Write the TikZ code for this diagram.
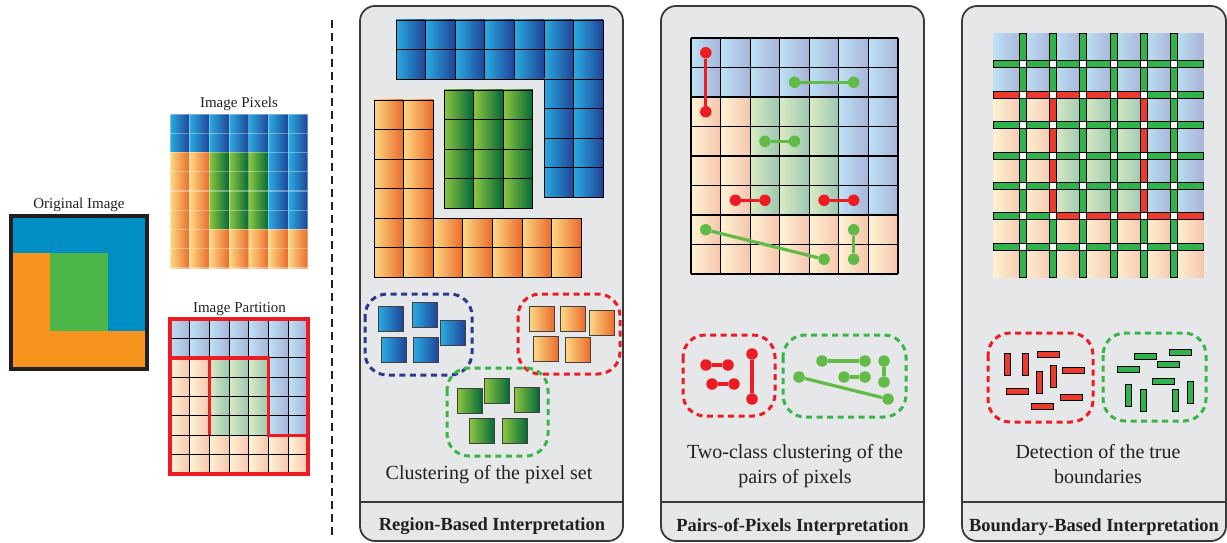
\documentclass[tikz,border=0pt]{standalone}
\usepackage{fontspec}
\setmainfont{Liberation Serif}
\usepackage{xcolor}
\usetikzlibrary{positioning}

\definecolor{inkgray}{HTML}{231F20}
\definecolor{panelgray}{HTML}{E6E7E8}
\definecolor{panelline}{HTML}{3A3A3A}
\definecolor{origorange}{HTML}{F7941D}
\definecolor{origblue}{HTML}{008FC5}
\definecolor{origgreen}{HTML}{4CB748}
\definecolor{blueL}{HTML}{29ABE2}
\definecolor{blueR}{HTML}{1F4396}
\definecolor{orangeL}{HTML}{FCD883}
\definecolor{orangeR}{HTML}{EA6A2A}
\definecolor{greenL}{HTML}{8DC63F}
\definecolor{greenR}{HTML}{006838}
\definecolor{pblueL}{HTML}{BCE2F5}
\definecolor{pblueR}{HTML}{A8B3D8}
\definecolor{porangeL}{HTML}{FDF3D3}
\definecolor{porangeR}{HTML}{F6C5AD}
\definecolor{pgreenL}{HTML}{DAEBC3}
\definecolor{pgreenR}{HTML}{9CC6B2}
\definecolor{pxred}{HTML}{ED1C24}
\definecolor{pxgreen}{HTML}{62BB46}
\definecolor{barred}{HTML}{EC3A2E}
\definecolor{bargreen}{HTML}{2FB34A}
\definecolor{clblue}{HTML}{2B3990}
\definecolor{clred}{HTML}{ED1C24}
\definecolor{clgreen}{HTML}{39B54A}

% region of cell (column, row) in the 7x8 image: b, o or g
\newcommand{\setregion}[2]{%
	\ifnum#2<2 \def\reg{b}\else\ifnum#2>5 \def\reg{o}\else\ifnum#1<2 \def\reg{o}\else\ifnum#1<5 \def\reg{g}\else\def\reg{b}\fi\fi\fi\fi}

\tikzset{
	every node/.style = {inner sep = 0, text=inkgray},
	smalllabel/.style = {font=\fontsize{15}{18}\selectfont, anchor=base},
	caption/.style = {font=\fontsize{20}{25}\selectfont, anchor=base, align=center},
	paneltitle/.style = {font=\fontsize{18.5}{22}\selectfont\bfseries, anchor=base},
	panel/.style = {draw=panelline, line width=1.8pt, fill=panelgray, rounded corners=15pt},
	panelrule/.style = {draw=panelline, line width=1.8pt},
	sepline/.style = {draw=inkgray, line width=2.5pt, dash pattern=on 8pt off 5pt},
	pixb/.style = {left color=blueL, right color=blueR},
	pixo/.style = {left color=orangeL, right color=orangeR},
	pixg/.style = {left color=greenL, right color=greenR},
	palb/.style = {left color=pblueL, right color=pblueR},
	palo/.style = {left color=porangeL, right color=porangeR},
	palg/.style = {left color=pgreenL, right color=pgreenR},
	pixgrid/.style = {draw=white, draw opacity=0.35, line width=1.2pt},
	cellline/.style = {draw=black, line width=0.9pt},
	boundary/.style = {draw=pxred, line width=3.5pt},
	clsq/.style = {draw=black!75, line width=0.8pt, minimum size=25pt},
	cluster/.style = {line width=3pt, dash pattern=on 6pt off 4.5pt, rounded corners=22pt},
	dotred/.style = {circle, fill=pxred, minimum size=11.5pt},
	dotgrn/.style = {circle, fill=pxgreen, minimum size=11.5pt},
	pairred/.style = {draw=pxred, line width=3.2pt},
	pairgrn/.style = {draw=pxgreen, line width=3.2pt},
	barline/.style = {draw=black, line width=1pt},
	minih/.style = {draw=black, line width=1pt, minimum width=22pt, minimum height=6pt},
	miniv/.style = {draw=black, line width=1pt, minimum width=6pt, minimum height=22pt},
}

\begin{document}
\begin{tikzpicture}[x=1pt, y=-1pt]
	\useasboundingbox (0,0) rectangle (1227,543);

	% original image
	\fill[origorange] (11,216) rectangle (147,369);
	\fill[origblue] (11,216) rectangle (147,253);
	\fill[origblue] (108,216) rectangle (147,331);
	\fill[origgreen] (50,253) rectangle (108,331);
	\draw[line width=4pt, draw=inkgray] (11,216) rectangle (147,369);
	\node[smalllabel] (origlabel) at (79,208) {Original Image};

	% image pixels
	\foreach \i in {0,...,6}
		\foreach \j in {0,...,7} {
			\setregion{\i}{\j}
			\fill[pix\reg] ({170+19.71*\i},{114+19.25*\j}) rectangle +(19.71,19.25);
		}
	\foreach \i in {0,...,7} \draw[pixgrid] ({170+19.71*\i},114) -- ({170+19.71*\i},268);
	\foreach \j in {0,...,8} \draw[pixgrid] (170,{114+19.25*\j}) -- (308,{114+19.25*\j});
	\node[smalllabel] (pixlabel) at (239,107) {Image Pixels};

	% image partition
	\foreach \i in {0,...,6}
		\foreach \j in {0,...,7} {
			\setregion{\i}{\j}
			\fill[pal\reg] ({170+19.71*\i},{319+19.375*\j}) rectangle +(19.71,19.375);
		}
	\foreach \i in {1,...,6} \draw[cellline] ({170+19.71*\i},319) -- ({170+19.71*\i},474);
	\foreach \j in {1,...,7} \draw[cellline] (170,{319+19.375*\j}) -- (308,{319+19.375*\j});
	\draw[boundary] (170,357.75) -- (268.6,357.75) -- (268.6,435.25) -- (308,435.25);
	\draw[boundary] (209.4,357.75) -- (209.4,435.25);
	\draw[boundary, line width=4pt] (170,319) rectangle (308,474);
	\node[smalllabel] (partlabel) at (239.5,312) {Image Partition};

	\draw[sepline] (332,20) -- (332,535);

	% panels
	\draw[panel] (360,6) rectangle (623,541);
	\draw[panel] (661,6) rectangle (924,541);
	\draw[panel] (962,6) rectangle (1226,541);
	\draw[panelrule] (360,502) -- (623,502);
	\draw[panelrule] (661,502) -- (924,502);
	\draw[panelrule] (962,502) -- (1226,502);

	% region-based: the three regions
	\foreach \i in {0,...,6}
		\foreach \j in {0,1} \draw[pixb, cellline] ({396+29.6*\i},{20+29.5*\j}) rectangle +(29.6,29.5);
	\foreach \i in {5,6}
		\foreach \j in {2,...,5} \draw[pixb, cellline] ({396+29.6*\i},{20+29.5*\j}) rectangle +(29.6,29.5);
	\foreach \i in {0,1,2}
		\foreach \j in {0,...,3} \draw[pixg, cellline] ({444+29.6*\i},{90+29.5*\j}) rectangle +(29.6,29.5);
	\foreach \i in {0,1}
		\foreach \j in {0,...,3} \draw[pixo, cellline] ({374+29.6*\i},{100+29.5*\j}) rectangle +(29.6,29.5);
	\foreach \i in {0,...,6}
		\foreach \j in {4,5} \draw[pixo, cellline] ({374+29.6*\i},{100+29.5*\j}) rectangle +(29.6,29.5);

	% region-based: clusters
	\draw[cluster, draw=clblue] (365,294) rectangle (472,375);
	\draw[cluster, draw=clred] (518,294) rectangle (620,374);
	\draw[cluster, draw=clgreen] (447,368) rectangle (548,456);
	\foreach \n/\x/\y in {1/391/319, 2/425/315, 3/453/333, 4/394/350, 5/426/350}
		\node[clsq, pixb] (bsq\n) at (\x,\y) {};
	\foreach \n/\x/\y in {1/542/319, 2/573/319, 3/602/323, 4/546/349, 5/578/350}
		\node[clsq, pixo] (osq\n) at (\x,\y) {};
	\foreach \n/\x/\y in {1/470/401, 2/497/391, 3/527/400, 4/482/431, 5/515/431}
		\node[clsq, pixg] (gsq\n) at (\x,\y) {};
	\node[caption] (regioncap) at (489,479) {Clustering of the pixel set};
	\node[paneltitle] (regiontitle) at (492,530) {Region-Based Interpretation};

	% pairs of pixels: grid
	\foreach \i in {0,...,6}
		\foreach \j in {0,...,7} {
			\setregion{\i}{\j}
			\fill[pal\reg] ({691+29.57*\i},{38+29.5*\j}) rectangle +(29.57,29.5);
		}
	\foreach \i in {0,...,7} \draw[cellline, line width=1.2pt] ({691+29.57*\i},38) -- ({691+29.57*\i},274);
	\foreach \j in {0,...,8} \draw[cellline, line width=1.2pt] (691,{38+29.5*\j}) -- (898,{38+29.5*\j});

	% pairs of pixels: pairs in the grid and in the clusters
	\foreach \n/\xa/\ya/\xb/\yb in {1/705.8/52.75/705.8/111.75, 2/735.4/200.25/764.9/200.25, 3/824.1/200.25/853.7/200.25,
		4/706/365/728/365, 5/712/384/734/384, 6/752/354/752/399} {
		\node[dotred] (redA\n) at (\xa,\ya) {};
		\node[dotred] (redB\n) at (\xb,\yb) {};
		\draw[pairred] (redA\n) -- (redB\n);
	}
	\foreach \n/\xa/\ya/\xb/\yb in {1/794.5/82.25/853.7/82.25, 2/764.9/141.25/794.5/141.25, 3/705.8/229.75/824.1/259.25,
		4/853.7/229.75/853.7/259.25, 5/822/361/865/361, 6/844/377/865/377, 7/884/361/884/382, 8/799/377/888/399} {
		\node[dotgrn] (grnA\n) at (\xa,\ya) {};
		\node[dotgrn] (grnB\n) at (\xb,\yb) {};
		\draw[pairgrn] (grnA\n) -- (grnB\n);
	}
	\draw[cluster, draw=clred] (683,335) rectangle (775,416);
	\draw[cluster, draw=clgreen] (783,335) rectangle (906,417);
	\node[caption] (pairscap) at (795,483) {Two-class clustering of the\\pairs of pixels};
	\node[paneltitle] (pairstitle) at (792.5,531) {Pairs-of-Pixels Interpretation};

	% boundary-based: grid and boundaries
	\foreach \i in {0,...,6}
		\foreach \j in {0,...,7} {
			\setregion{\i}{\j}
			\fill[pal\reg] ({993+30.14*\i},{34+30.375*\j}) rectangle +(30.14,30.375);
		}
	\foreach \k in {1,...,6}
		\foreach \l in {1,...,7}
			\fill[white] ({993+30.14*\k-3.5},{34+30.375*\l-3.5}) rectangle ({993+30.14*\k+3.5},{34+30.375*\l+3.5});
	\foreach \k in {1,...,6}
		\foreach \j in {0,...,7} {
			\pgfmathtruncatemacro\km{\k-1}
			\setregion{\km}{\j}\let\rega\reg
			\setregion{\k}{\j}
			\ifx\rega\reg\def\barcol{bargreen}\else\def\barcol{barred}\fi
			\pgfmathsetmacro\xa{993+30.14*\k}
			\pgfmathsetmacro\ya{34+30.375*\j+(\j>0)*3.5}
			\pgfmathsetmacro\yb{34+30.375*(\j+1)-(\j<7)*3.5}
			\draw[barline, fill=\barcol] (\xa-3.5,\ya) rectangle (\xa+3.5,\yb);
		}
	\foreach \k in {1,...,7}
		\foreach \i in {0,...,6} {
			\pgfmathtruncatemacro\km{\k-1}
			\setregion{\i}{\km}\let\rega\reg
			\setregion{\i}{\k}
			\ifx\rega\reg\def\barcol{bargreen}\else\def\barcol{barred}\fi
			\pgfmathsetmacro\ya{34+30.375*\k}
			\pgfmathsetmacro\xa{993+30.14*\i+(\i>0)*3.5}
			\pgfmathsetmacro\xb{993+30.14*(\i+1)-(\i<6)*3.5}
			\draw[barline, fill=\barcol] (\xa,\ya-3.5) rectangle (\xb,\ya+3.5);
		}

	% boundary-based: clusters
	\draw[cluster, draw=clred] (988,333) rectangle (1093,422);
	\draw[cluster, draw=clgreen] (1103,333) rectangle (1206,421);
	\foreach \n/\x/\y in {1/1007/364, 2/1025/364, 3/1039/382, 4/1053/376}
		\node[miniv, fill=barred] (rv\n) at (\x,\y) {};
	\foreach \n/\x/\y in {1/1048/354, 2/1073/370, 3/1017/391, 4/1071/397, 5/1042/406}
		\node[minih, fill=barred] (rh\n) at (\x,\y) {};
	\foreach \n/\x/\y in {1/1145/356, 2/1180/352, 3/1128/369, 4/1168/364, 5/1163/381}
		\node[minih, fill=bargreen] (gh\n) at (\x,\y) {};
	\foreach \n/\x/\y in {1/1128/395, 2/1143/400, 3/1175/400, 4/1190/392}
		\node[miniv, fill=bargreen] (gv\n) at (\x,\y) {};
	\node[caption] (bndcap) at (1098,483) {Detection of the true\\boundaries};
	\node[paneltitle] (bndtitle) at (1094,531) {Boundary-Based Interpretation};
\end{tikzpicture}
\end{document}
